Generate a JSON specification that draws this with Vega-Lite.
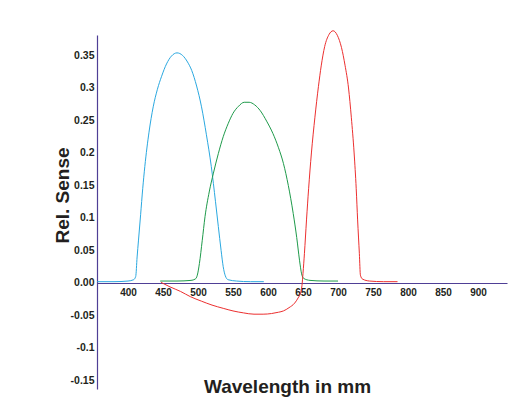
{
  "$schema": "https://vega.github.io/schema/vega-lite/v6.json",
  "autosize": {"type": "none"},
  "width": 410,
  "height": 354,
  "padding": {"left": 97, "top": 35, "right": 15, "bottom": 17},
  "background": "white",
  "config": {
    "view": {"stroke": null},
    "font": "Liberation Sans"
  },
  "data": {
    "values": [
      {"s": "blue", "nm": 356, "v": 0.002},
      {"s": "blue", "nm": 380, "v": 0.002},
      {"s": "blue", "nm": 400, "v": 0.003},
      {"s": "blue", "nm": 408, "v": 0.005},
      {"s": "blue", "nm": 411, "v": 0.01},
      {"s": "blue", "nm": 413, "v": 0.04},
      {"s": "blue", "nm": 415, "v": 0.066},
      {"s": "blue", "nm": 418, "v": 0.105},
      {"s": "blue", "nm": 421, "v": 0.145},
      {"s": "blue", "nm": 424, "v": 0.179},
      {"s": "blue", "nm": 430, "v": 0.232},
      {"s": "blue", "nm": 436, "v": 0.271},
      {"s": "blue", "nm": 442, "v": 0.298},
      {"s": "blue", "nm": 448, "v": 0.318},
      {"s": "blue", "nm": 455, "v": 0.337},
      {"s": "blue", "nm": 462, "v": 0.349},
      {"s": "blue", "nm": 470, "v": 0.354},
      {"s": "blue", "nm": 478, "v": 0.350},
      {"s": "blue", "nm": 485, "v": 0.340},
      {"s": "blue", "nm": 491, "v": 0.327},
      {"s": "blue", "nm": 498, "v": 0.303},
      {"s": "blue", "nm": 505, "v": 0.271},
      {"s": "blue", "nm": 512, "v": 0.228},
      {"s": "blue", "nm": 519, "v": 0.179},
      {"s": "blue", "nm": 525, "v": 0.125},
      {"s": "blue", "nm": 529, "v": 0.087},
      {"s": "blue", "nm": 533, "v": 0.05},
      {"s": "blue", "nm": 536, "v": 0.025},
      {"s": "blue", "nm": 539, "v": 0.011},
      {"s": "blue", "nm": 543, "v": 0.005},
      {"s": "blue", "nm": 555, "v": 0.003},
      {"s": "blue", "nm": 575, "v": 0.002},
      {"s": "blue", "nm": 594, "v": 0.002},
      {"s": "green", "nm": 446, "v": 0.003},
      {"s": "green", "nm": 470, "v": 0.003},
      {"s": "green", "nm": 490, "v": 0.004},
      {"s": "green", "nm": 496, "v": 0.006},
      {"s": "green", "nm": 499, "v": 0.012},
      {"s": "green", "nm": 502, "v": 0.03},
      {"s": "green", "nm": 506, "v": 0.065},
      {"s": "green", "nm": 510, "v": 0.102},
      {"s": "green", "nm": 516, "v": 0.140},
      {"s": "green", "nm": 522, "v": 0.169},
      {"s": "green", "nm": 529, "v": 0.199},
      {"s": "green", "nm": 536, "v": 0.225},
      {"s": "green", "nm": 543, "v": 0.245},
      {"s": "green", "nm": 550, "v": 0.261},
      {"s": "green", "nm": 558, "v": 0.272},
      {"s": "green", "nm": 566, "v": 0.278},
      {"s": "green", "nm": 573, "v": 0.278},
      {"s": "green", "nm": 581, "v": 0.274},
      {"s": "green", "nm": 589, "v": 0.265},
      {"s": "green", "nm": 598, "v": 0.249},
      {"s": "green", "nm": 607, "v": 0.230},
      {"s": "green", "nm": 615, "v": 0.208},
      {"s": "green", "nm": 622, "v": 0.184},
      {"s": "green", "nm": 629, "v": 0.150},
      {"s": "green", "nm": 636, "v": 0.107},
      {"s": "green", "nm": 641, "v": 0.07},
      {"s": "green", "nm": 645, "v": 0.035},
      {"s": "green", "nm": 648, "v": 0.014},
      {"s": "green", "nm": 651, "v": 0.007},
      {"s": "green", "nm": 660, "v": 0.004},
      {"s": "green", "nm": 680, "v": 0.003},
      {"s": "green", "nm": 700, "v": 0.003},
      {"s": "red", "nm": 447, "v": 0.001},
      {"s": "red", "nm": 460, "v": -0.006},
      {"s": "red", "nm": 475, "v": -0.013},
      {"s": "red", "nm": 489, "v": -0.021},
      {"s": "red", "nm": 505, "v": -0.028},
      {"s": "red", "nm": 520, "v": -0.034},
      {"s": "red", "nm": 536, "v": -0.039},
      {"s": "red", "nm": 550, "v": -0.043},
      {"s": "red", "nm": 565, "v": -0.046},
      {"s": "red", "nm": 580, "v": -0.048},
      {"s": "red", "nm": 593, "v": -0.048},
      {"s": "red", "nm": 605, "v": -0.047},
      {"s": "red", "nm": 615, "v": -0.045},
      {"s": "red", "nm": 622, "v": -0.043},
      {"s": "red", "nm": 630, "v": -0.038},
      {"s": "red", "nm": 638, "v": -0.031},
      {"s": "red", "nm": 643, "v": -0.023},
      {"s": "red", "nm": 646.5, "v": -0.015},
      {"s": "red", "nm": 648.5, "v": -0.004},
      {"s": "red", "nm": 650, "v": 0.015},
      {"s": "red", "nm": 652, "v": 0.045},
      {"s": "red", "nm": 655, "v": 0.097},
      {"s": "red", "nm": 658, "v": 0.145},
      {"s": "red", "nm": 662, "v": 0.200},
      {"s": "red", "nm": 667, "v": 0.255},
      {"s": "red", "nm": 672, "v": 0.302},
      {"s": "red", "nm": 676, "v": 0.334},
      {"s": "red", "nm": 681, "v": 0.364},
      {"s": "red", "nm": 687, "v": 0.382},
      {"s": "red", "nm": 693, "v": 0.388},
      {"s": "red", "nm": 699, "v": 0.381},
      {"s": "red", "nm": 705, "v": 0.362},
      {"s": "red", "nm": 710, "v": 0.335},
      {"s": "red", "nm": 715, "v": 0.300},
      {"s": "red", "nm": 719, "v": 0.255},
      {"s": "red", "nm": 723, "v": 0.200},
      {"s": "red", "nm": 726, "v": 0.145},
      {"s": "red", "nm": 728, "v": 0.097},
      {"s": "red", "nm": 730.5, "v": 0.045},
      {"s": "red", "nm": 732, "v": 0.012},
      {"s": "red", "nm": 735, "v": 0.006},
      {"s": "red", "nm": 745, "v": 0.003},
      {"s": "red", "nm": 765, "v": 0.002},
      {"s": "red", "nm": 785, "v": 0.002}
    ]
  },
  "mark": {"type": "line", "strokeWidth": 1, "clip": false, "interpolate": "monotone"},
  "encoding": {
    "x": {
      "field": "nm",
      "type": "quantitative",
      "scale": {"domain": [355.7, 941.4], "nice": false, "zero": false},
      "axis": {
        "orient": "bottom",
        "offset": -106,
        "values": [400, 450, 500, 550, 600, 650, 700, 750, 800, 850, 900],
        "format": "d",
        "grid": false,
        "ticks": false,
        "domainColor": "#4f3f96",
        "domainWidth": 1.2,
        "labelFont": "Liberation Sans",
        "labelFontWeight": "bold",
        "labelFontSize": 10,
        "labelColor": "#231f20",
        "labelPadding": 4,
        "title": "Wavelength in mm",
        "titleFont": "Liberation Sans",
        "titleFontWeight": "bold",
        "titleFontSize": 19,
        "titleColor": "#231f20",
        "titleX": 190,
        "titleY": 103,
        "titleBaseline": "middle",
        "titleAlign": "center"
      }
    },
    "y": {
      "field": "v",
      "type": "quantitative",
      "scale": {"domain": [-0.1631, 0.3815], "nice": false, "zero": false},
      "axis": {
        "values": [-0.15, -0.1, -0.05, 0, 0.05, 0.1, 0.15, 0.2, 0.25, 0.3, 0.35],
        "labelExpr": "datum.value == 0 ? '0.00' : toString(round(datum.value * 100) / 100)",
        "grid": false,
        "ticks": false,
        "domainColor": "#4f3f96",
        "domainWidth": 1.2,
        "labelFont": "Liberation Sans",
        "labelFontWeight": "bold",
        "labelFontSize": 10.5,
        "labelColor": "#231f20",
        "labelPadding": 3,
        "title": "Rel. Sense",
        "titleFont": "Liberation Sans",
        "titleFontWeight": "bold",
        "titleFontSize": 19,
        "titleColor": "#231f20",
        "titleAngle": -90,
        "titleX": -35,
        "titleY": 160,
        "titleBaseline": "middle",
        "titleAlign": "center"
      }
    },
    "color": {
      "field": "s",
      "type": "nominal",
      "scale": {"domain": ["blue", "green", "red"], "range": ["#2aa8e0", "#1e9a4a", "#ec2f2f"]},
      "legend": null
    }
  }
}
